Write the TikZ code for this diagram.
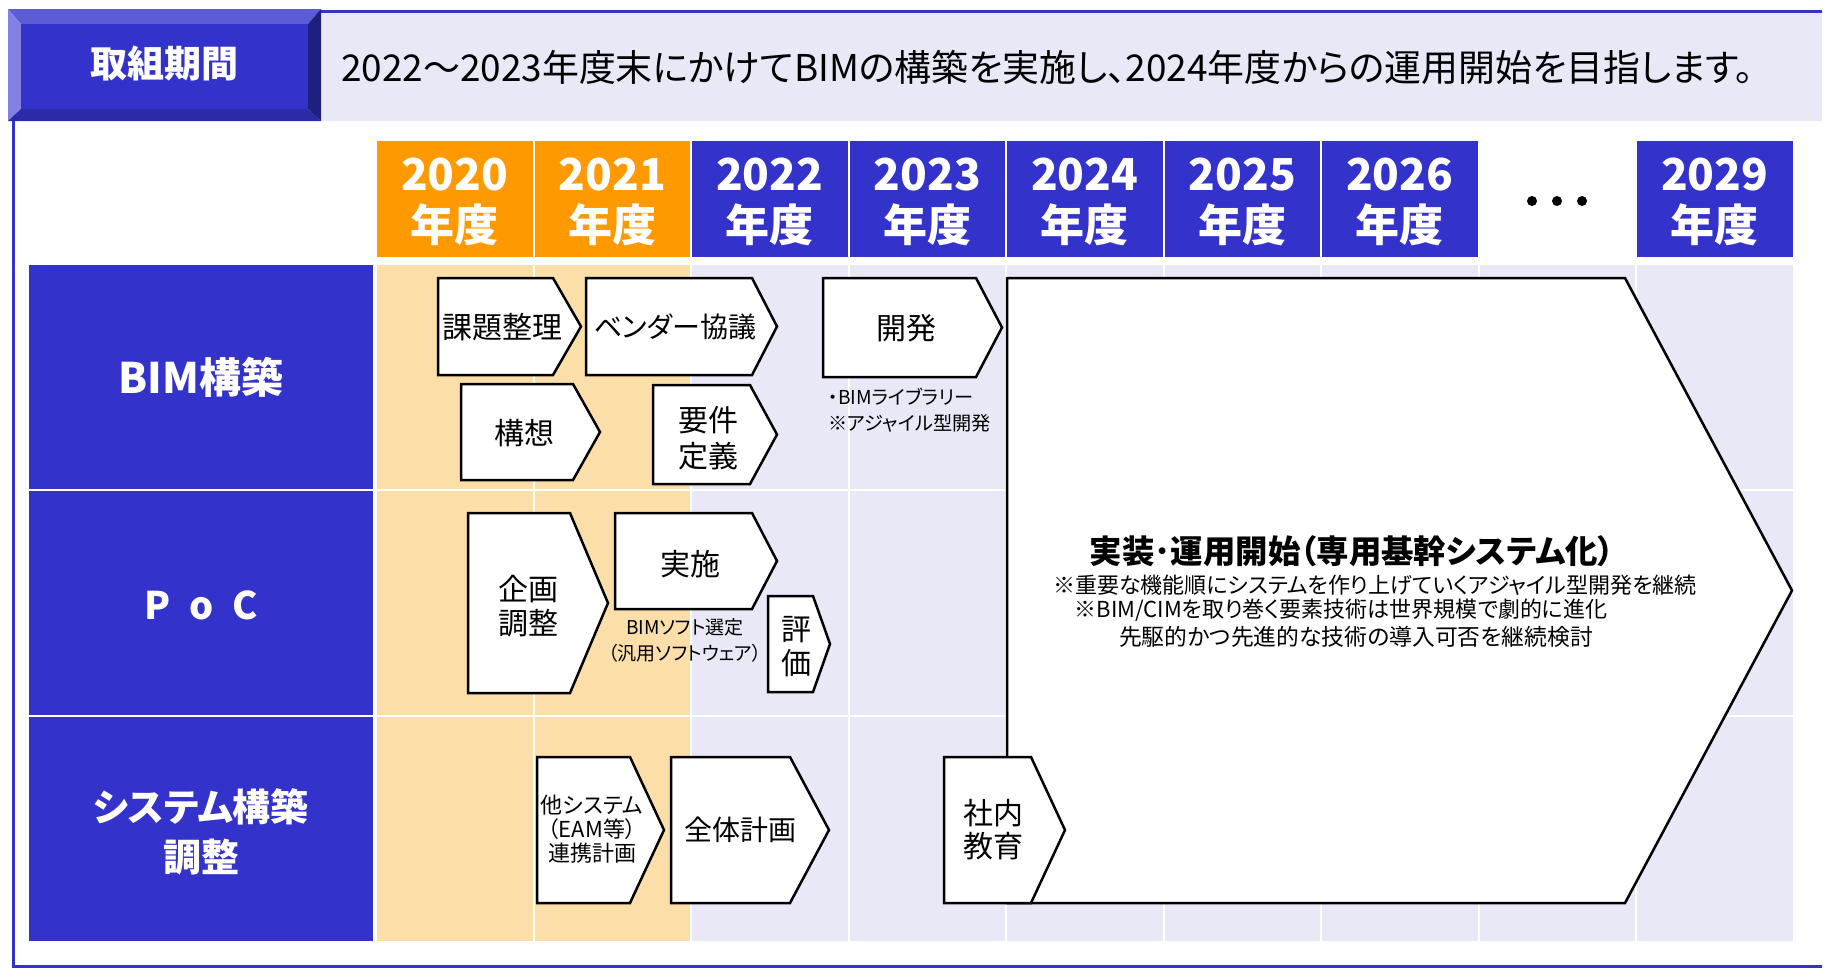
\documentclass[tikz,border=0pt]{standalone}
\usepackage{fontspec}
\setmainfont{Noto Sans CJK JP}[RawFeature=+palt]
\definecolor{blu}{HTML}{3333CC}
\definecolor{org}{HTML}{FF9900}
\definecolor{lorg}{HTML}{FCDFA8}
\definecolor{lav}{HTML}{E8E8F6}
\definecolor{bvtop}{HTML}{5C5CD6}
\definecolor{bvleft}{HTML}{8181E0}
\definecolor{bvbot}{HTML}{2B2BA8}
\definecolor{bvright}{HTML}{1F1F80}
\newcommand\chevshape[5]{\draw[chev] (#1,#2) -- (#3,#2) -- (#5,{(#2+#4)/2}) -- (#3,#4) -- (#1,#4) -- cycle;}
\begin{document}
\begin{tikzpicture}[x=0.5pt,y=-0.5pt,
  chev/.style={draw=black,fill=white,line width=1.25pt,line join=miter},
  ctext/.style={font=\fontsize{15}{18}\selectfont,align=center,inner sep=0pt},
  yr/.style={font=\bfseries\fontsize{22}{25.5}\selectfont,text=white,align=center,inner sep=0pt},
  lbl/.style={font=\bfseries\fontsize{19}{25}\selectfont,text=white,align=center,inner sep=0pt},
  note/.style={font=\fontsize{9.5}{13}\selectfont,inner sep=0pt},
  bignote/.style={font=\fontsize{11}{13}\selectfont,inner sep=0pt}]
\useasboundingbox (0,0) rectangle (1825,970);
\fill[white] (0,0) rectangle (1825,970);
% header band
\fill[lav] (320,13) rectangle (1822,121);
\draw[blu,line width=1.5pt] (320,11.5) -- (1822,11.5);
% outer frame
\draw[blu,line width=1.5pt] (13.5,121) -- (13.5,966.5) -- (1822,966.5);
% bevel title box
\fill[bvtop] (8,9) -- (321,9) -- (308,24) -- (21,24) -- cycle;
\fill[bvleft] (8,9) -- (21,24) -- (21,109) -- (8,121) -- cycle;
\fill[bvbot] (8,121) -- (21,109) -- (308,109) -- (321,121) -- cycle;
\fill[bvright] (321,9) -- (308,24) -- (308,109) -- (321,121) -- cycle;
\fill[blu] (21,24) rectangle (308,109);
\node[font=\bfseries\fontsize{18.5}{20}\selectfont,text=white,inner sep=0pt] (title) at (164,64) {取組期間};
\node[font=\fontsize{18.45}{20}\selectfont,anchor=west,inner sep=0pt] (headtext) at (341,67) {2022～2023年度末にかけてBIMの構築を実施し、2024年度からの運用開始を目指します。};
% year headers
\foreach \i/\yy in {0/2020,1/2021,2/2022,3/2023,4/2024,5/2025,6/2026,8/2029}{
  \pgfmathsetmacro\xl{377+157.5*\i}
  \ifnum\i<2 \def\cc{org}\else\def\cc{blu}\fi
  \fill[\cc] (\xl,141) rectangle ++(155.5,116);
  \node[yr] (y\yy) at (\xl+77.75,202) {\yy\\年度};
}
\foreach \dx in {-25,0,25} \fill (1557+\dx,201) circle (5);
% body cells
\foreach \i in {0,...,8}{
  \pgfmathsetmacro\xl{377+157.5*\i}
  \ifnum\i<2 \def\cc{lorg}\else\def\cc{lav}\fi
  \foreach \yt in {265,491,717}{
    \fill[\cc] (\xl,\yt) rectangle ++(155.5,224);
  }
}
% row labels
\fill[blu] (29,265) rectangle (373,489);
\fill[blu] (29,491) rectangle (373,715);
\fill[blu] (29,717) rectangle (373,941);
\node[lbl,font=\bfseries\fontsize{21}{25}\selectfont] (lbim) at (201,377) {BIM構築};
\node[lbl] (lpoc) at (201,605) {P\hspace{0.5em}o\hspace{0.5em}C};
\node[lbl] (lsys) at (201,832) {システム構築\\調整};
% chevrons
\chevshape{438}{278}{553}{375}{581}
\chevshape{586}{278}{752}{375}{777}
\chevshape{823}{278}{976}{377}{1002}
\chevshape{461}{384}{573}{480}{600}
\chevshape{653}{385}{750}{484}{777}
\chevshape{468}{513}{570}{693}{608}
\chevshape{615}{513}{752}{609}{777}
\chevshape{768}{596}{813}{692}{830}
\chevshape{537}{757}{630}{903}{664}
\chevshape{671}{757}{790}{903}{829}
\chevshape{1007}{278}{1625}{903}{1792}
\chevshape{944}{757}{1031}{903}{1065}
% chevron texts
\node[ctext] (kadai) at (502,327) {課題整理};
\node[ctext,font=\fontsize{14}{18}\selectfont] (vendor) at (675,327) {ベンダー協議};
\node[ctext] (kaihatsu) at (906,328) {開発};
\node[ctext] (koso) at (524,433) {構想};
\node[ctext,font=\fontsize{15}{18}\selectfont] (yoken) at (708,438) {要件\\定義};
\node[ctext,font=\fontsize{15}{17}\selectfont] (kikaku) at (528,606) {企画\\調整};
\node[ctext] (jisshi) at (690,564) {実施};
\node[ctext,font=\fontsize{15}{17}\selectfont] (hyoka) at (796,647) {評\\価};
\node[ctext,font=\fontsize{11}{12}\selectfont] (tasys) at (592,829) {他システム\\（EAM等）\\連携計画};
\node[ctext,font=\fontsize{14}{17}\selectfont] (zentai) at (740,830) {全体計画};
\node[ctext,font=\fontsize{15}{16.5}\selectfont] (shanai) at (993,830) {社内\\教育};
% notes
\node[note,anchor=west,align=left,font=\fontsize{9.6}{13}\selectfont] (devnote) at (828,410) {・BIMライブラリー\\※アジャイル型開発};
\node[note,align=center] (softnote) at (685,640) {BIMソフト選定\\（汎用ソフトウェア）};
% big text
\node[font=\bfseries\fontsize{16.2}{18}\selectfont,inner sep=0pt] (bigtitle) at (1352,551) {実装･運用開始（専用基幹システム化）};
\node[bignote] (bign1) at (1375,585) {※重要な機能順にシステムを作り上げていくアジャイル型開発を継続};
\node[bignote] (bign2) at (1341,610) {※BIM/CIMを取り巻く要素技術は世界規模で劇的に進化};
\node[bignote,font=\fontsize{11.4}{13}\selectfont] (bign3) at (1356,637) {先駆的かつ先進的な技術の導入可否を継続検討};
\end{tikzpicture}
\end{document}
